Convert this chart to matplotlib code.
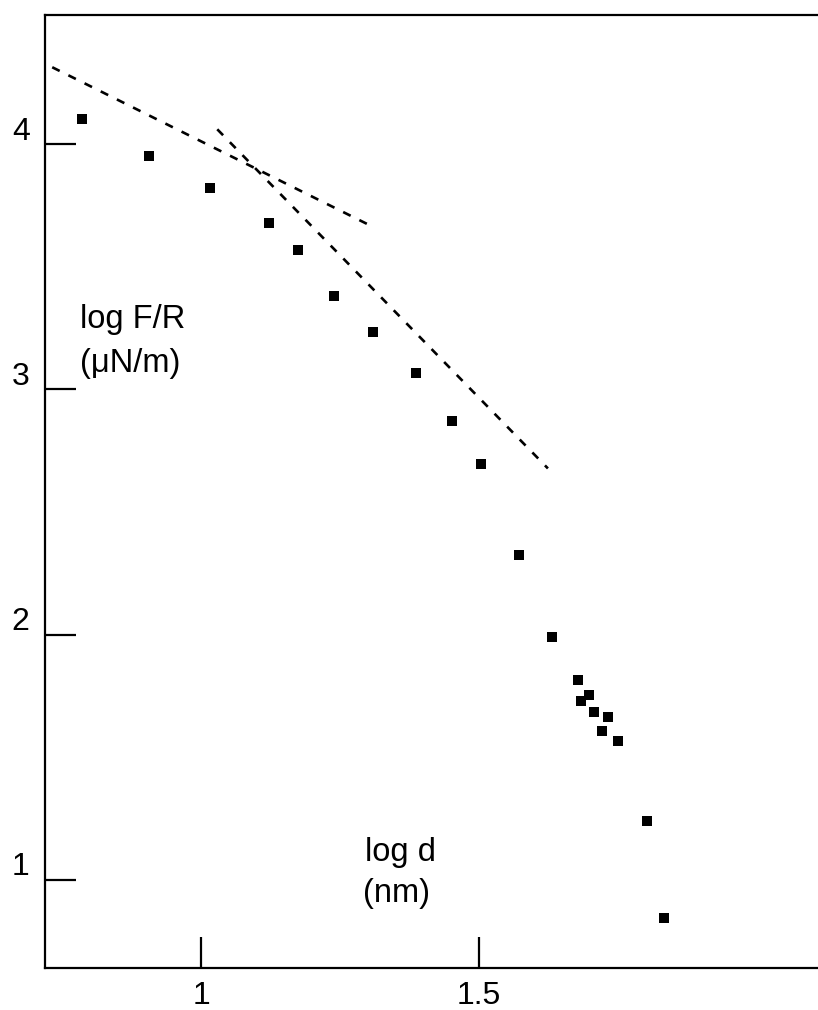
import matplotlib
matplotlib.use('Agg')
import matplotlib.pyplot as plt
import matplotlib.transforms as mtransforms

plt.rcParams['font.family'] = ['Liberation Sans', 'DejaVu Sans']
plt.rcParams['lines.scale_dashes'] = False

# data titik (log d, log F/R)
log_d = [0.786, 0.906, 1.016, 1.122, 1.174, 1.239, 1.309, 1.387, 1.451, 1.504,
         1.572, 1.631, 1.678, 1.698, 1.683, 1.707, 1.732, 1.721, 1.750, 1.802, 1.833]
log_fr = [4.102, 3.951, 3.820, 3.678, 3.567, 3.380, 3.233, 3.069, 2.873, 2.698,
          2.327, 1.992, 1.816, 1.755, 1.731, 1.686, 1.665, 1.608, 1.567, 1.241, 0.845]

# garis putus-putus (teori)
garis1_x = [0.732, 1.311]
garis1_y = [4.314, 3.661]
garis2_x = [1.029, 1.624]
garis2_y = [4.061, 2.678]

xticks = [1, 1.5]
xtick_labels = ['1', '1.5']
yticks = [1, 2, 3, 4]
ytick_labels = ['1', '2', '3', '4']

fig = plt.figure(figsize=(8.18, 10.10), dpi=100)
ax = fig.add_axes([45 / 818, 1 - 968 / 1010, 1 - 45 / 818, (968 - 15) / 1010])

ax.plot(log_d, log_fr, 's', color='black', markersize=6.5, markeredgewidth=0)
ax.plot(garis1_x, garis1_y, color='black', linewidth=1.9, dashes=(6, 7))
ax.plot(garis2_x, garis2_y, color='black', linewidth=1.9, dashes=(6, 7))

ax.set_xlim(0.719, 2.110)
ax.set_ylim(0.641, 4.527)

ax.spines['right'].set_visible(False)
for s in ['left', 'top', 'bottom']:
    ax.spines[s].set_linewidth(1.6)

ax.set_xticks(xticks)
ax.set_xticklabels(xtick_labels)
ax.set_yticks(yticks)
ax.set_yticklabels(ytick_labels)
ax.tick_params(direction='in', length=22, width=1.6, labelsize=23)
ax.tick_params(axis='x', pad=9)
ax.tick_params(axis='y', pad=11)

# geser label sumbu y sedikit ke atas
offset = mtransforms.ScaledTranslation(0, 0.16, fig.dpi_scale_trans)
for label in ax.get_yticklabels():
    label.set_transform(label.get_transform() + offset)

# label sumbu di dalam area plot
fig.text(80 / 818, 1 - 328 / 1010, 'log F/R', fontsize=23.5, va='baseline')
fig.text(80 / 818, 1 - 372 / 1010, '(\u03bcN/m)', fontsize=23.5, va='baseline')
fig.text(365 / 818, 1 - 861 / 1010, 'log d', fontsize=23.5, va='baseline')
fig.text(363 / 818, 1 - 902 / 1010, '(nm)', fontsize=23.5, va='baseline')

fig.savefig('out.png', dpi=100)
